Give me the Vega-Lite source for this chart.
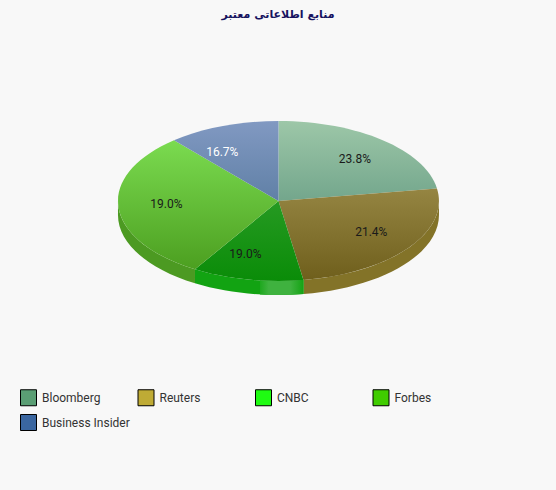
{
  "$schema": "https://vega.github.io/schema/vega-lite/v6.json",
  "width": 556,
  "height": 460,
  "padding": {"top": 30, "left": 0, "right": 0, "bottom": 0},
  "autosize": "none",
  "background": "#f8f8f8",
  "config": {"view": {"stroke": null}},
  "title": {
    "text": "منابع اطلاعاتی معتبر",
    "font": "DejaVu Sans",
    "fontSize": 11,
    "fontWeight": "bold",
    "color": "#16125f",
    "anchor": "middle",
    "offset": 10
  },
  "data": {
    "values": [
      {"source": "Bloomberg", "count": 10},
      {"source": "Reuters", "count": 9},
      {"source": "CNBC", "count": 8},
      {"source": "Forbes", "count": 8},
      {"source": "Business Insider", "count": 7}
    ]
  },
  "layer": [
    {
      "encoding": {
        "x": {"datum": 0, "type": "quantitative", "axis": null, "scale": {"domain": [-1.735, 1.729], "nice": false, "zero": false}},
        "y": {"datum": 0, "type": "quantitative", "axis": null, "scale": {"domain": [-3.6125, 2.1375], "nice": false, "zero": false}}
      },
      "layer": [
        {
          "mark": {"type": "point", "filled": true, "size": 0},
          "encoding": {
            "color": {
              "field": "source",
              "type": "nominal",
              "sort": null,
              "scale": {
                "domain": ["Bloomberg", "Reuters", "CNBC", "Forbes", "Business Insider"],
                "range": ["#5a9e74", "#bfab35", "#1ffb12", "#40cc00", "#3a66a0"]
              },
              "legend": {
                "title": null,
                "orient": "none",
                "direction": "horizontal",
                "legendX": 20,
                "legendY": 359,
                "columns": 4,
                "gridAlign": "all",
                "columnPadding": 5.5,
                "rowPadding": 4,
                "symbolType": "square",
                "symbolSize": 256,
                "symbolStrokeColor": "#000",
                "symbolStrokeWidth": 1,
                "symbolOpacity": 1,
                "labelFont": "Roboto",
                "labelFontSize": 12,
                "labelColor": "#333",
                "labelOffset": 5
              }
            }
          }
        },
        {
          "transform": [{"filter": "datum.source === 'Reuters'"}],
          "mark": {"type": "point", "filled": true, "opacity": 1, "size": 4, "fill": "#837328",
            "shape": "M160.5,0A160.5,80,0,0,1,25,79L25,93A160.5,80,0,0,0,160.5,14Z"}
        },
        {
          "transform": [{"filter": "datum.source === 'CNBC'"}],
          "mark": {"type": "point", "filled": true, "opacity": 1, "size": 4, "fill": "#12a312",
            "shape": "M25,79A160.5,80,0,0,1,-83.5,68.3L-83.5,82.3A160.5,80,0,0,0,25,93Z"}
        },
        {
          "transform": [{"filter": "datum.source === 'Forbes'"}],
          "mark": {"type": "point", "filled": true, "opacity": 1, "size": 4, "fill": "#4c9a22",
            "shape": "M-83.5,68.3A160.5,80,0,0,1,-160.5,0L-160.5,14A160.5,80,0,0,0,-83.5,82.3Z"}
        },
        {
          "transform": [{"filter": "datum.source === 'CNBC'"}],
          "mark": {"type": "point", "filled": true, "opacity": 1, "size": 4,
            "fill": {"gradient": "linear", "x1": 0, "x2": 1, "y1": 0, "y2": 0, "stops": [
              {"offset": 0, "color": "#1ea81e"},
              {"offset": 0.2, "color": "#3fb23f"},
              {"offset": 0.7, "color": "#3fb23f"},
              {"offset": 1, "color": "#14a314"}
            ]},
            "shape": "M-18.5,79.5A160.5,80,0,0,0,25,79L25,93A160.5,80,0,0,1,-18.5,93.5Z"}
        },
        {
          "transform": [{"filter": "datum.source === 'Bloomberg'"}],
          "mark": {"type": "point", "filled": true, "opacity": 1, "size": 4,
            "fill": {"gradient": "linear", "x1": 0, "x2": 0, "y1": 0, "y2": 1, "stops": [
              {"offset": 0, "color": "#9dc7a8"},
              {"offset": 1, "color": "#73a68c"}
            ]},
            "shape": "M0,0L0,-80A160.5,80,0,0,1,158.5,-12.6Z"}
        },
        {
          "transform": [{"filter": "datum.source === 'Reuters'"}],
          "mark": {"type": "point", "filled": true, "opacity": 1, "size": 4,
            "fill": {"gradient": "linear", "x1": 0, "x2": 0, "y1": 0, "y2": 1, "stops": [
              {"offset": 0, "color": "#958542"},
              {"offset": 1, "color": "#6f5f1c"}
            ]},
            "shape": "M0,0L158.5,-12.6A160.5,80,0,0,1,25,79Z"}
        },
        {
          "transform": [{"filter": "datum.source === 'CNBC'"}],
          "mark": {"type": "point", "filled": true, "opacity": 1, "size": 4,
            "fill": {"gradient": "linear", "x1": 0, "x2": 0, "y1": 0, "y2": 1, "stops": [
              {"offset": 0, "color": "#269a22"},
              {"offset": 1, "color": "#0a8c08"}
            ]},
            "shape": "M0,0L25,79A160.5,80,0,0,1,-83.5,68.3Z"}
        },
        {
          "transform": [{"filter": "datum.source === 'Forbes'"}],
          "mark": {"type": "point", "filled": true, "opacity": 1, "size": 4,
            "fill": {"gradient": "linear", "x1": 0, "x2": 0, "y1": 0, "y2": 1, "stops": [
              {"offset": 0, "color": "#7bdb50"},
              {"offset": 1, "color": "#4c9f20"}
            ]},
            "shape": "M0,0L-83.5,68.3A160.5,80,0,0,1,-104.5,-60.7Z"}
        },
        {
          "transform": [{"filter": "datum.source === 'Business Insider'"}],
          "mark": {"type": "point", "filled": true, "opacity": 1, "size": 4,
            "fill": {"gradient": "linear", "x1": 0, "x2": 0, "y1": 0, "y2": 1, "stops": [
              {"offset": 0, "color": "#8199c2"},
              {"offset": 1, "color": "#6080a6"}
            ]},
            "shape": "M0,0L-104.5,-60.7A160.5,80,0,0,1,0,-80Z"}
        }
      ]
    },
    {
      "transform": [
        {"joinaggregate": [{"op": "sum", "field": "count", "as": "total"}]},
        {"window": [{"op": "sum", "field": "count", "as": "cum"}], "frame": [null, 0]},
        {"calculate": "datum.count / datum.total", "as": "share"},
        {"calculate": "2 * PI * (datum.cum - datum.count / 2) / datum.total", "as": "mid"},
        {"calculate": "0.7 * sin(datum.mid)", "as": "lx"},
        {"calculate": "0.7 * cos(datum.mid)", "as": "ly"}
      ],
      "mark": {"type": "text", "font": "Roboto", "fontSize": 12, "dy": -1},
      "encoding": {
        "x": {"field": "lx", "type": "quantitative", "axis": null, "scale": {"domain": [-1.735, 1.729], "nice": false, "zero": false}},
        "y": {"field": "ly", "type": "quantitative", "axis": null, "scale": {"domain": [-3.6125, 2.1375], "nice": false, "zero": false}},
        "text": {"field": "share", "type": "quantitative", "format": ".1%"},
        "color": {"condition": {"test": "datum.source === 'Business Insider'", "value": "#ffffff"}, "value": "#1a1a1a"}
      }
    }
  ]
}
